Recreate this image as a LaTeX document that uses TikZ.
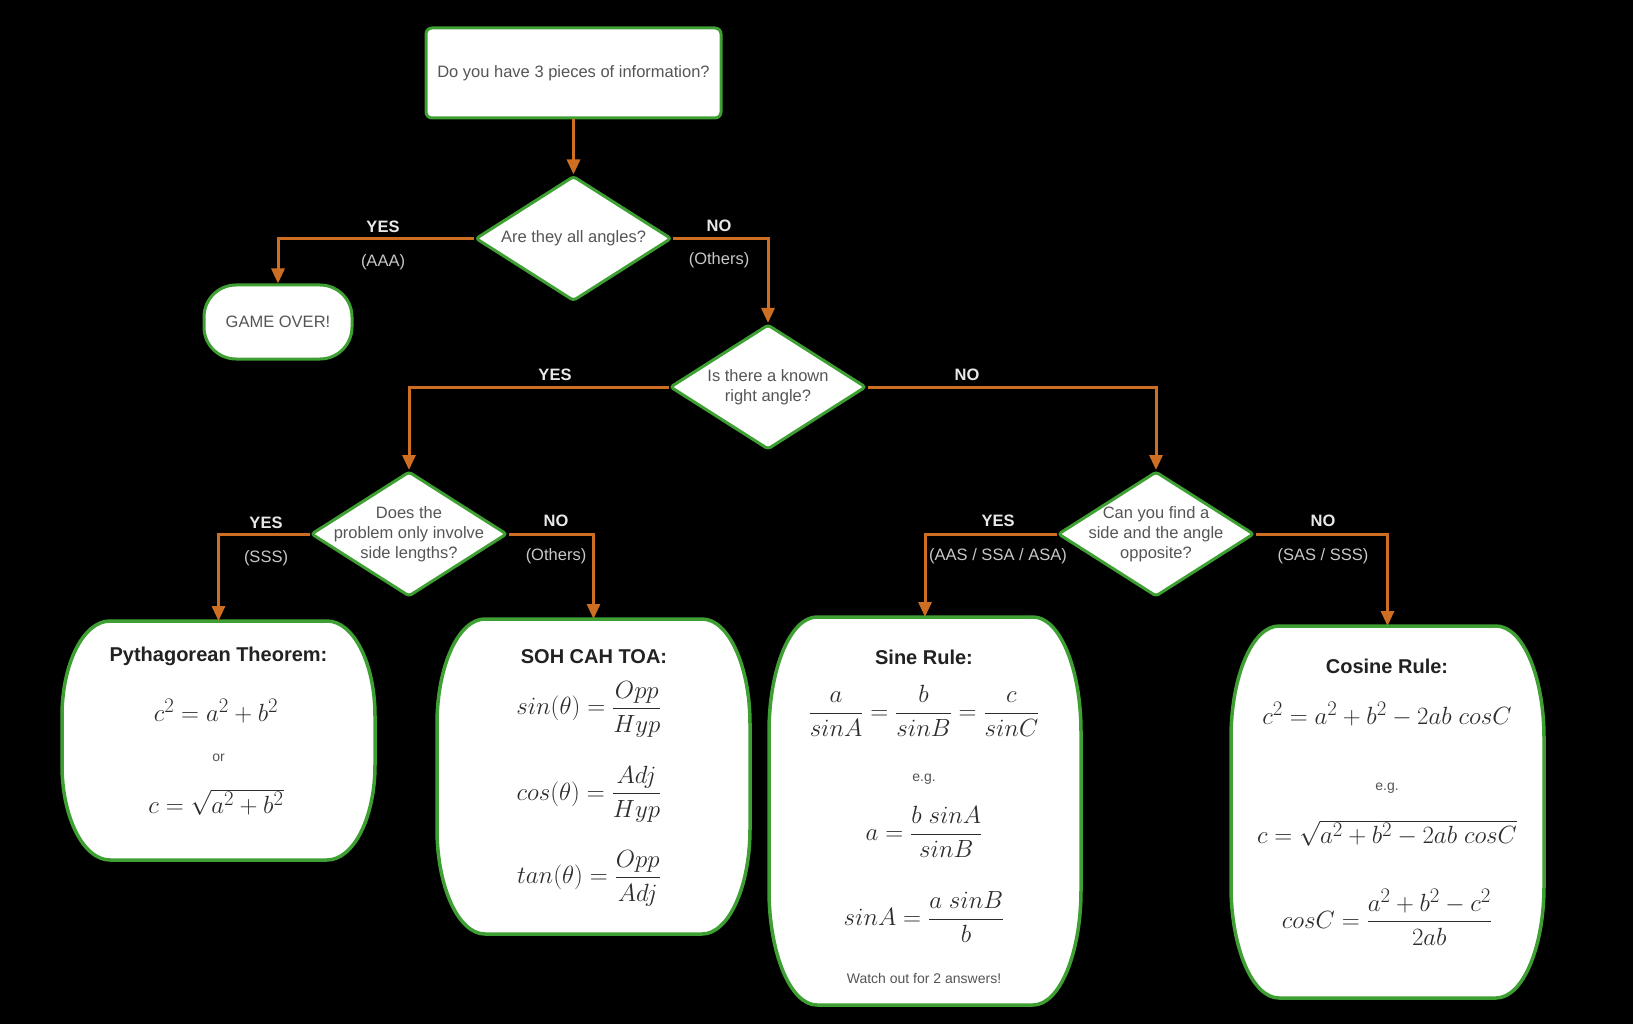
\documentclass[tikz,border=0pt]{standalone}
\usepackage{amsmath}
\usepackage{fontspec}
\setmainfont{Liberation Sans}
\usetikzlibrary{shapes.geometric,arrows.meta}
% larger superscripts for the formula size
\DeclareMathSizes{25}{25}{19.5}{15}

\definecolor{edgegreen}{RGB}{62,160,50}
\definecolor{flowc}{RGB}{205,110,35}
\definecolor{qtext}{RGB}{85,85,85}
\definecolor{titlec}{RGB}{34,34,34}
\definecolor{mathc}{RGB}{45,45,45}
\definecolor{lblc}{RGB}{232,232,232}
\definecolor{sublblc}{RGB}{200,200,200}

% barrel-shaped panel drawn around a named placeholder node
\newcommand\drawbarrel[2]{%
  \path[panelline]
    ([xshift=48pt]#1.north west) -- ([xshift=-48pt]#1.north east)
    arc[start angle=90,end angle=0,x radius=48pt,y radius=#2]
    -- ([yshift=#2]#1.south east)
    arc[start angle=0,end angle=-90,x radius=48pt,y radius=#2]
    -- ([xshift=48pt]#1.south west)
    arc[start angle=270,end angle=180,x radius=48pt,y radius=#2]
    -- ([yshift=-#2]#1.north west)
    arc[start angle=180,end angle=90,x radius=48pt,y radius=#2]
    -- cycle;}

\tikzset{
  qfont/.style={font=\fontsize{16.5}{20}\selectfont, text=qtext},
  startbox/.style={rectangle, rounded corners=6pt, draw=edgegreen, fill=white,
    line width=3pt, minimum width=295pt, minimum height=90pt, qfont},
  endbox/.style={rectangle, rounded corners=32pt, draw=edgegreen, fill=white,
    line width=3pt, minimum width=148pt, minimum height=74pt, qfont},
  decision/.style={diamond, rounded corners=3pt, draw=edgegreen, fill=white,
    line width=3pt, minimum width=196pt, minimum height=125pt,
    inner sep=0pt, qfont},
  panel/.style={rectangle, draw=none, inner sep=0pt, outer sep=0pt},
  panelline/.style={draw=edgegreen, fill=white, line width=3.5pt},
  flow/.style={draw=flowc, line width=3pt, -{Triangle[length=15pt,width=13pt]}},
  yesno/.style={font=\bfseries\fontsize{16.5}{20}\selectfont, text=lblc},
  cases/.style={font=\fontsize{16.5}{20}\selectfont, text=sublblc},
  title/.style={font=\bfseries\fontsize{20}{24}\selectfont, text=titlec},
  formula/.style={font=\fontsize{25}{30}\selectfont, text=mathc, inner sep=0pt},
  note/.style={font=\fontsize{14}{17}\selectfont, text=qtext},
}

\begin{document}
\begin{tikzpicture}[x=1pt,y=-1pt]
\fill[black] (0,0) rectangle (1633,1024);
\useasboundingbox (0,0) rectangle (1633,1024);

% question flow
\node[startbox] (start) at (573.5,73) {Do you have 3 pieces of information?};
\node[decision] (d1) at (573.5,238.5) {\makebox[0pt]{Are they all angles?}};
\node[endbox] (over) at (278,322) {GAME OVER!};
\node[decision] (d2) at (768,387)
  {\makebox[0pt]{\begin{tabular}{@{}c@{}}Is there a known\\right angle?\end{tabular}}};
\node[decision] (d3) at (409,534)
  {\makebox[0pt]{\begin{tabular}{@{}c@{}}Does the\\problem only involve\\side lengths?\end{tabular}}};
\node[decision] (d4) at (1156,534)
  {\makebox[0pt]{\begin{tabular}{@{}c@{}}Can you find a\\side and the angle\\opposite?\end{tabular}}};

% result panels
\node[panel, minimum width=313pt, minimum height=239pt] (pyth) at (218.5,740.5) {};
\node[panel, minimum width=313pt, minimum height=315pt] (soh) at (593.5,776.5) {};
\node[panel, minimum width=312pt, minimum height=388pt] (sine) at (925,811) {};
\node[panel, minimum width=313pt, minimum height=372pt] (cosine) at (1387.5,812) {};
\drawbarrel{pyth}{95pt}
\drawbarrel{soh}{105pt}
\drawbarrel{sine}{115pt}
\drawbarrel{cosine}{112pt}

% connectors
\draw[flow] (start.south) -- (d1.north);
\draw[flow] (d1.west) -| (over.north);
\draw[flow] (d1.east) -| (d2.north);
\draw[flow] (d2.west) -| (d3.north);
\draw[flow] (d2.east) -| (d4.north);
\draw[flow] (d3.west) -| (pyth.north);
\draw[flow] (d3.east) -| (soh.north);
\draw[flow] (d4.west) -| (sine.north);
\draw[flow] (d4.east) -| (cosine.north);

% branch labels
\node[yesno] (y1) at (383,227) {YES};
\node[cases] (c1) at (383,262) {(AAA)};
\node[yesno] (n1) at (719,226) {NO};
\node[cases] (o1) at (719,260) {(Others)};
\node[yesno] (y2) at (555,375) {YES};
\node[yesno] (n2) at (967,375) {NO};
\node[yesno] (y3) at (266,523) {YES};
\node[cases] (c3) at (266,558) {(SSS)};
\node[yesno] (n3) at (556,521) {NO};
\node[cases] (o3) at (556,556) {(Others)};
\node[yesno] (y4) at (998,521) {YES};
\node[cases] (c4) at (998,556) {(AAS / SSA / ASA)};
\node[yesno] (n4) at (1323,521) {NO};
\node[cases] (o4) at (1323,556) {(SAS / SSS)};

% Pythagorean theorem
\node[title] (pt) at (218.5,656) {Pythagorean Theorem:};
\node[formula] (pe1) at (216,711) {$c^2=a^2+b^2$};
\node[note] (por) at (218.5,758) {or};
\node[formula] (pe2) at (216,802) {$c=\sqrt{a^2+b^2}$};

% SOH CAH TOA
\node[title] (st) at (594,657) {SOH CAH TOA:};
\node[formula] (se1) at (589,709) {$sin(\theta)=\dfrac{Opp}{Hyp}$};
\node[formula] (se2) at (589,794) {$cos(\theta)=\dfrac{Adj}{Hyp}$};
\node[formula] (se3) at (589,878) {$tan(\theta)=\dfrac{Opp}{Adj}$};

% sine rule
\node[title] (rt) at (924,657) {Sine Rule:};
\node[formula] (re1) at (924,711) {$\dfrac{a}{sinA}=\dfrac{b}{sinB}=\dfrac{c}{sinC}$};
\node[note] (reg) at (924,779) {e.g.};
\node[formula] (re2) at (924,832) {$a=\dfrac{b\ sinA}{sinB}$};
\node[formula] (re3) at (924,917) {$sinA=\dfrac{a\ sinB}{b}$};
\node[note] (rw) at (924,978) {Watch out for 2 answers!};

% cosine rule
\node[title] (ct) at (1387,666) {Cosine Rule:};
\node[formula] (ce1) at (1387,714) {$c^2=a^2+b^2-2ab\ cosC$};
\node[note] (ceg) at (1387,788) {e.g.};
\node[formula] (ce2) at (1387,833) {$c=\sqrt{a^2+b^2-2ab\ cosC}$};
\node[formula] (ce3) at (1387,917) {$cosC=\dfrac{a^2+b^2-c^2}{2ab}$};
\end{tikzpicture}
\end{document}
